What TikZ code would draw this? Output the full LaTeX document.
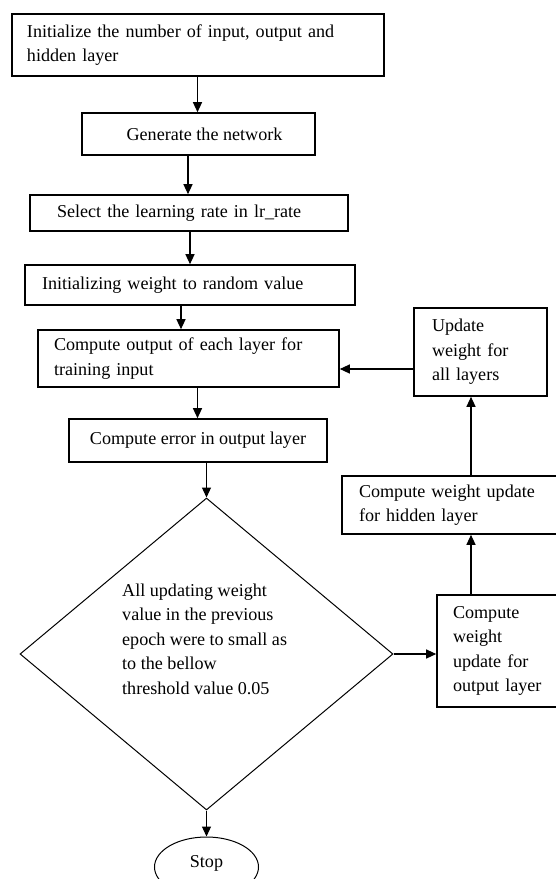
\documentclass[tikz,border=0pt]{standalone}
\usepackage{fontspec}
\setmainfont{Liberation Serif}
\usetikzlibrary{shapes.geometric,arrows.meta}
\begin{document}
\begin{tikzpicture}[x=1pt,y=-1pt,
  every node/.style={font=\fontsize{18.1}{24.5}\selectfont},
  box/.style={draw,line width=1.6pt,rectangle,inner ysep=0pt},
  lbox/.style 2 args={box,minimum width=#1,text width=#1-2*#2,inner xsep=#2,align=left},
  cbox/.style={box,minimum width=#1,inner xsep=0pt,align=center},
  arr/.style={line width=1.2pt,-{Triangle[length=10pt,width=9pt]}}]
\useasboundingbox (0,0) rectangle (556,879);
\fill[white] (0,0) rectangle (556,879);
\clip (0,0) rectangle (556,879);
% main column
\node[lbox={372}{15},minimum height=62] (b1) at (198,45) {Initialize the number of input, output and\\hidden layer};
\node[cbox=233,minimum height=42] (b2) at (198.5,134) {\hspace*{12pt}Generate the network};
\node[lbox={318}{27},minimum height=36] (b3) at (189,213) {Select the learning rate in lr\_rate};
\node[lbox={330}{17},minimum height=40] (b4) at (190,285) {Initializing weight to random value};
\node[lbox={301}{16},minimum height=57] (b5) at (188.5,358.5) {Compute output of each layer for\\training input};
\node[cbox=258,minimum height=43] (b6) at (198,440.5) {Compute error in output layer};
\node[draw,diamond,line width=1pt,inner sep=0pt,minimum width=373,minimum height=312] (dec) at (206.5,654) {};
\node[anchor=west,inner sep=0pt,align=left] (dectext) at (122,639) {All updating weight\\value in the previous\\epoch were to small as\\to the bellow\\threshold value 0.05};
\node[draw,ellipse,line width=1pt,inner sep=0pt,minimum width=104,minimum height=60] (stop) at (206.5,867) {};
\node[inner sep=0pt] (stoptext) at (206.5,863) {Stop};
% right column
\node[lbox={133}{18},minimum height=88] (upd) at (480.5,352) {Update\\weight for\\all layers};
\node[lbox={220}{17},minimum height=58] (hid) at (452,505) {Compute weight update\\for hidden layer};
\node[lbox={125}{16},minimum height=112] (out) at (499.5,651) {Compute\\weight\\update for\\output layer};
% connector x positions
\coordinate (xa) at (197.5,0);
\coordinate (xb) at (188,0);
\coordinate (xc) at (190,0);
\coordinate (xd) at (181,0);
\coordinate (xe) at (197.5,0);
\coordinate (xr) at (471,0);
\coordinate (yu) at (0,369);
\draw[arr] (b1.south -| xa) -- (b2.north -| xa);
\draw[arr] (b2.south -| xb) -- (b3.north -| xb);
\draw[arr] (b3.south -| xc) -- (b4.north -| xc);
\draw[arr] (b4.south -| xd) -- (b5.north -| xd);
\draw[arr] (b5.south -| xe) -- (b6.north -| xe);
\draw[arr] (b6.south -| dec.north) -- (dec.north);
\draw[arr] (dec.south) -- (stop.north);
\draw[arr] (dec.east) -- (dec.east -| out.west);
\draw[arr] (out.north -| xr) -- (hid.south -| xr);
\draw[arr] (hid.north -| xr) -- (upd.south -| xr);
\draw[arr] (upd.west |- yu) -- (b5.east |- yu);
\end{tikzpicture}
\end{document}
